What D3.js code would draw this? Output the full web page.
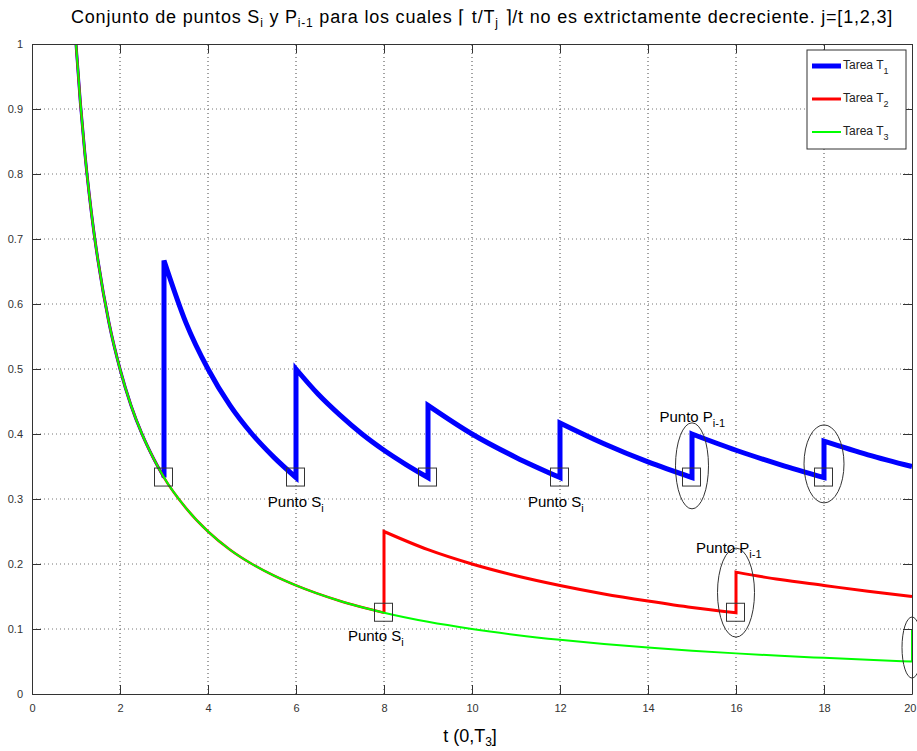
<!DOCTYPE html>
<html>
<head>
<meta charset="utf-8">
<script src="https://cdn.jsdelivr.net/npm/d3@7"></script>
<style>
  html, body { margin: 0; padding: 0; background: #fff; }
  svg { display: block; font-family: "Liberation Sans", Arial, Helvetica, sans-serif; }
</style>
</head>
<body>
<svg id="chart" width="917" height="751"></svg>
<script>
// Tick values of both axes
const xTicks = [0, 2, 4, 6, 8, 10, 12, 14, 16, 18, 20];
const yTicks = [0, 0.1, 0.2, 0.3, 0.4, 0.5, 0.6, 0.7, 0.8, 0.9, 1];

// ceil(t/Tj)/t, one array of [t, value] per stretch between jumps
const tarea1 = [
  [[1, 1], [1.1, 0.909], [1.2, 0.833], [1.3, 0.769], [1.4, 0.714], [1.5, 0.667], [1.75, 0.571], [2, 0.5], [2.25, 0.444], [2.5, 0.4], [2.75, 0.364], [3, 0.333]],
  [[3, 0.667], [3.5, 0.571], [4, 0.5], [4.5, 0.444], [5, 0.4], [5.5, 0.364], [6, 0.333]],
  [[6, 0.5], [6.5, 0.4615], [7, 0.429], [7.5, 0.4], [8, 0.375], [8.5, 0.353], [9, 0.333]],
  [[9, 0.444], [10, 0.4], [11, 0.364], [12, 0.333]],
  [[12, 0.417], [13, 0.385], [14, 0.357], [15, 0.333]],
  [[15, 0.4], [16, 0.375], [17, 0.353], [18, 0.333]],
  [[18, 0.389], [19, 0.368], [20, 0.35]]
];
const tarea2 = [
  [[1, 1], [1.1, 0.909], [1.2, 0.833], [1.3, 0.769], [1.4, 0.714], [1.5, 0.667], [1.75, 0.571], [2, 0.5], [2.25, 0.444], [2.5, 0.4], [2.75, 0.364], [3, 0.333],
   [3.5, 0.286], [4, 0.25], [4.5, 0.222], [5, 0.2], [5.5, 0.182], [6, 0.167], [7, 0.143], [8, 0.125]],
  [[8, 0.25], [9, 0.222], [10, 0.2], [11, 0.182], [12, 0.167], [13, 0.154], [14, 0.143], [15, 0.133], [16, 0.125]],
  [[16, 0.1875], [17, 0.176], [18, 0.167], [19, 0.158], [20, 0.15]]
];
const tarea3 = [
  [[1, 1], [1.1, 0.909], [1.2, 0.833], [1.3, 0.769], [1.4, 0.714], [1.5, 0.667], [1.75, 0.571], [2, 0.5], [2.25, 0.444], [2.5, 0.4], [2.75, 0.364], [3, 0.333],
   [3.5, 0.286], [4, 0.25], [4.5, 0.222], [5, 0.2], [5.5, 0.182], [6, 0.167], [7, 0.143], [8, 0.125], [9, 0.111], [10, 0.1],
   [11, 0.0909], [12, 0.0833], [13, 0.0769], [14, 0.0714], [15, 0.0667], [16, 0.0625], [17, 0.0588], [18, 0.0556], [19, 0.0526], [20, 0.05]],
  [[20, 0.1]]
];

// Points S_i (start of a period) and P_{i-1} (jump) that are marked
const puntosS = [[3, 0.333], [6, 0.333], [9, 0.333], [12, 0.333], [15, 0.333], [18, 0.333], [8, 0.125], [16, 0.125]];
const puntosP = [[15, 0.351], [18, 0.354], [16, 0.156], [20, 0.0715]];
const etiquetas = [
  { t: 5.36, v: 0.288, base: "Punto S", sub: "i" },
  { t: 11.27, v: 0.288, base: "Punto S", sub: "i" },
  { t: 7.18, v: 0.081, base: "Punto S", sub: "i" },
  { t: 14.26, v: 0.419, base: "Punto P", sub: "i-1" },
  { t: 15.09, v: 0.217, base: "Punto P", sub: "i-1" }
];

const series = [
  { name: "T", sub: "1", data: tarea1, color: "#0000ff", thin: 3, thick: 5 },
  { name: "T", sub: "2", data: tarea2, color: "#ff0000", thin: 2.5, thick: 3 },
  { name: "T", sub: "3", data: tarea3, color: "#00ff00", thin: 2, thick: 2 }
];

const svg = d3.select("#chart");
const x = d3.scaleLinear().domain([0, 20]).range([32, 912]);
const y = d3.scaleLinear().domain([0, 1]).range([694, 44]);

// dotted grid
const grid = svg.append("g");
grid.selectAll("line.gx").data(xTicks.slice(1, -1)).join("line")
  .attr("x1", d => x(d)).attr("x2", d => x(d))
  .attr("y1", y(0)).attr("y2", y(1))
  .attr("stroke", "#444").attr("stroke-width", 1).attr("stroke-dasharray", "1,3");
grid.selectAll("line.gy").data(yTicks.slice(1, -1)).join("line")
  .attr("x1", x(0)).attr("x2", x(20))
  .attr("y1", d => y(d)).attr("y2", d => y(d))
  .attr("stroke", "#777").attr("stroke-width", 1).attr("stroke-dasharray", "1,3");

svg.append("clipPath").attr("id", "plotclip").append("rect")
  .attr("x", x(0)).attr("y", y(1) - 1).attr("width", x(20) - x(0) + 1).attr("height", y(0) - y(1) + 1);

const lineGen = d3.line().x(d => x(d[0])).y(d => y(d[1])).curve(d3.curveMonotoneX);

// joins the stretches into one path, the jumps as straight segments
function joinStretches(startPoint, stretches) {
  let p = "M" + x(startPoint[0]) + "," + y(startPoint[1]);
  stretches.forEach(s => {
    if (s.length === 1) p += "L" + x(s[0][0]) + "," + y(s[0][1]);
    else p += lineGen(s).replace(/^M/, "L");
  });
  return p;
}

const curves = svg.append("g").attr("clip-path", "url(#plotclip)");
series.forEach(s => {
  const first = s.data[0];
  curves.append("path").attr("d", lineGen(first))
    .attr("fill", "none").attr("stroke", s.color).attr("stroke-width", s.thin)
    .attr("stroke-linejoin", "round");
  curves.append("path").attr("d", joinStretches(first[first.length - 1], s.data.slice(1)))
    .attr("fill", "none").attr("stroke", s.color).attr("stroke-width", s.thick)
    .attr("stroke-linejoin", "miter");
});

// boxes at S_i
const marks = svg.append("g");
marks.selectAll("rect").data(puntosS).join("rect")
  .attr("x", d => x(d[0]) - 9.5).attr("y", d => y(d[1]) - 9.5)
  .attr("width", 18).attr("height", 18)
  .attr("fill", "none").attr("stroke", "#333").attr("stroke-width", 1);

// ellipses round the jumps P_{i-1}
const radios = [[16.5, 43], [20, 39], [18.5, 44.5], [10, 30.5]];
marks.selectAll("ellipse").data(puntosP).join("ellipse")
  .attr("cx", d => x(d[0])).attr("cy", d => y(d[1]))
  .attr("rx", (d, i) => radios[i][0]).attr("ry", (d, i) => radios[i][1])
  .attr("fill", "none").attr("stroke", "#333").attr("stroke-width", 1);

// text labels with subscripts
function subText(sel, base, sub, size, drop) {
  sel.append("tspan").text(base);
  sel.append("tspan").attr("dy", drop).attr("font-size", size).text(sub);
}
etiquetas.forEach(e => {
  const t = svg.append("text").attr("x", x(e.t)).attr("y", y(e.v))
    .attr("font-size", 15).attr("fill", "#000");
  subText(t, e.base, e.sub, 11, 5);
});

// axes with inward ticks on all four sides
const fmt = d => String(d);
svg.append("g").attr("transform", `translate(0,${y(0)})`)
  .call(d3.axisBottom(x).tickValues(xTicks).tickFormat(fmt).tickSizeInner(-9).tickSizeOuter(0).tickPadding(10))
  .call(g => g.selectAll("text").attr("font-size", 11).attr("fill", "#333").attr("font-family", null))
  .call(g => g.selectAll(".tick").filter(d => d === 20).select("text")
    .attr("text-anchor", "end").attr("x", 4));
svg.append("g").attr("transform", `translate(${x(0)},0)`)
  .call(d3.axisLeft(y).tickValues(yTicks).tickFormat(fmt).tickSizeInner(-9).tickSizeOuter(0).tickPadding(9))
  .call(g => g.selectAll("text").attr("font-size", 11).attr("fill", "#333").attr("font-family", null));
svg.append("g").attr("transform", `translate(0,${y(1)})`)
  .call(d3.axisTop(x).tickValues(xTicks).tickFormat("").tickSizeInner(-9).tickSizeOuter(0));
svg.append("g").attr("transform", `translate(${x(20)},0)`)
  .call(d3.axisRight(y).tickValues(yTicks).tickFormat("").tickSizeInner(-9).tickSizeOuter(0));
svg.selectAll(".domain, .tick line").attr("stroke", "#333");

// title
const title = svg.append("text").attr("x", 482).attr("y", 23)
  .attr("text-anchor", "middle").attr("font-size", 18).attr("letter-spacing", 0.8).attr("fill", "#000");
title.append("tspan").text("Conjunto de puntos S");
title.append("tspan").attr("dy", 4).attr("font-size", 12).text("i");
title.append("tspan").attr("dy", -4).text(" y P");
title.append("tspan").attr("dy", 4).attr("font-size", 12).text("i-1");
title.append("tspan").attr("dy", -4).text(" para los cuales \u2308 t/T");
title.append("tspan").attr("dy", 4).attr("font-size", 12).text("j");
title.append("tspan").attr("dy", -4).text(" \u2309/t no es extrictamente decreciente. j=[1,2,3]");

// x-axis label
const xl = svg.append("text").attr("x", 470).attr("y", 742)
  .attr("text-anchor", "middle").attr("font-size", 18).attr("fill", "#000");
xl.append("tspan").text("t (0,T");
xl.append("tspan").attr("dy", 4).attr("font-size", 12).text("3");
xl.append("tspan").attr("dy", -4).text("]");

// legend
const lg = svg.append("g").attr("transform", "translate(807,50)");
lg.append("rect").attr("width", 99).attr("height", 99)
  .attr("fill", "#fff").attr("stroke", "#333").attr("stroke-width", 1);
series.forEach((s, i) => {
  const ry = 16 + i * 33;
  lg.append("line").attr("x1", 5).attr("x2", 34).attr("y1", ry).attr("y2", ry)
    .attr("stroke", s.color).attr("stroke-width", s.thick);
  const t = lg.append("text").attr("x", 36).attr("y", ry + 3)
    .attr("font-size", 12).attr("fill", "#222");
  t.append("tspan").text("Tarea " + s.name);
  t.append("tspan").attr("dy", 5).attr("font-size", 9).text(s.sub);
});
</script>
</body>
</html>
